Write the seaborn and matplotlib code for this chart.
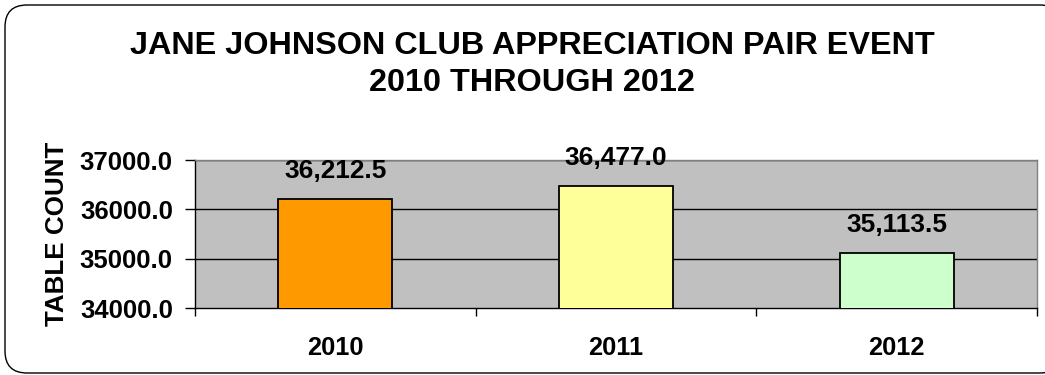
import matplotlib
matplotlib.use("Agg")
import matplotlib.pyplot as plt
import seaborn as sns
import pandas as pd
from matplotlib.patches import FancyBboxPatch

# chart data
years = ["2010", "2011", "2012"]
table_counts = [36212.5, 36477.0, 35113.5]
bar_colors = ["#FF9900", "#FFFF99", "#CCFFCC"]
y_ticks = [34000, 35000, 36000, 37000]
title_lines = ["JANE JOHNSON CLUB APPRECIATION PAIR EVENT", "2010 THROUGH 2012"]

df = pd.DataFrame({"year": years, "count": table_counts})

sns.set_style("white")
plt.rcParams["font.family"] = ["Liberation Sans", "DejaVu Sans"]
plt.rcParams["font.weight"] = "bold"
plt.rcParams["text.color"] = "black"
plt.rcParams["xtick.color"] = "black"
plt.rcParams["ytick.color"] = "black"
plt.rcParams["axes.labelcolor"] = "black"
plt.rcParams["xtick.bottom"] = True
plt.rcParams["ytick.left"] = True

fig = plt.figure(figsize=(10.45, 3.75), dpi=100)

# rounded outer frame (runs off the right edge like the original)
frame = FancyBboxPatch((0.05, 0.02), 10.57, 3.68,
                       boxstyle="round,pad=0,rounding_size=0.22",
                       transform=fig.dpi_scale_trans, facecolor="white",
                       edgecolor="black", linewidth=1.0, zorder=-5)
fig.patches.append(frame)

ax = fig.add_axes([195 / 1045, 1 - 308 / 375, 842 / 1045, 148 / 375])
ax.set_facecolor("#C0C0C0")

sns.barplot(data=df, x="year", y="count", hue="year", palette=bar_colors,
            legend=False, width=0.405, edgecolor="black", linewidth=1.3,
            saturation=1, ax=ax, zorder=3)

ax.set_ylim(34000, 37000)
ax.set_xlim(-0.5, 2.5)
ax.set_yticks(y_ticks)
ax.set_yticklabels([f"{v:.1f}" for v in y_ticks])
for v in y_ticks[1:]:
    ax.axhline(v, color="black", linewidth=1.0, zorder=1)

# ticks at category boundaries
ax.set_xticks([-0.5, 0.5, 1.5, 2.5], minor=True)
ax.tick_params(axis="x", which="minor", length=6, width=1, color="black")
ax.tick_params(axis="x", which="major", length=0, pad=20, labelsize=18.3)
ax.tick_params(axis="y", length=7, width=1, color="black", pad=9, labelsize=18.5)
for lab in ax.get_xticklabels() + ax.get_yticklabels():
    lab.set_fontweight("bold")

for side in ["left", "bottom"]:
    ax.spines[side].set_color("black")
    ax.spines[side].set_linewidth(1.0)
for side in ["top", "right"]:
    ax.spines[side].set_visible(True)
    ax.spines[side].set_color("#808080")
    ax.spines[side].set_linewidth(1.0)

ax.set_xlabel("")
ax.set_ylabel("TABLE COUNT", fontsize=18.7, fontweight="bold")
ax.yaxis.set_label_coords(-126 / 842, 0.5)

for i, v in enumerate(table_counts):
    ax.annotate(f"{v:,.1f}", xy=(i, v), xytext=(0, 20), textcoords="offset points",
                ha="center", va="center", fontsize=18.9, fontweight="bold",
                annotation_clip=False)

fig.text(532 / 1045, 1 - 46 / 375, title_lines[0],
         ha="center", va="center", fontsize=23.3, fontweight="bold")
fig.text(532 / 1045, 1 - 83 / 375, title_lines[1],
         ha="center", va="center", fontsize=23.3, fontweight="bold")

fig.savefig("out.png", dpi=100)
